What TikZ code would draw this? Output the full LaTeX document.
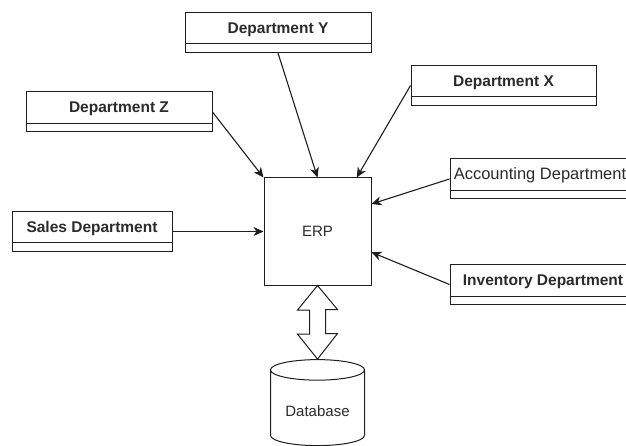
\documentclass[tikz,border=0pt]{standalone}
\usepackage{fontspec}
\setmainfont{Liberation Sans}
\usepackage{xcolor}
\usepackage{tikz}
\usetikzlibrary{arrows.meta,shapes.geometric}
\definecolor{cizgiGri}{HTML}{1E1E1E}
\definecolor{yaziGri}{HTML}{2B2B2B}

\begin{document}
\begin{tikzpicture}[x=1pt,y=-1pt,
  dept/.style={draw=cizgiGri,line width=1pt,fill=white,minimum width=#1,minimum height=40pt,
    inner sep=0pt,text height=11pt,text depth=9pt,text=yaziGri,
    font=\fontsize{15.5}{18}\selectfont\bfseries},
  link/.style={draw=cizgiGri,line width=1.1pt,-{Stealth[length=10pt,width=9pt,inset=3pt]}}]
\useasboundingbox (0,0) rectangle (626,446);
\clip (0,0) rectangle (626,446);
% merkez
\node[draw=cizgiGri,line width=1pt,minimum width=107pt,minimum height=107pt,text=yaziGri,
  font=\fontsize{15}{18}\selectfont] (erp) at (317.5,231.5) {ERP};
% departmanlar
\node[dept=186] (depY) at (278,32.5) {Department Y};
\node[dept=186] (depZ) at (119,112) {Department Z};
\node[dept=185] (depX) at (503.5,85.5) {Department X};
\node[dept=180,font=\fontsize{16.5}{20}\selectfont] (acc) at (540,179) {Accounting Department};
\node[dept=186] (inv) at (543,284.5) {Inventory Department};
\node[dept=160] (sales) at (92,231.5) {Sales Department};
\foreach \n in {depY,depZ,depX,acc,inv,sales}
  \draw[cizgiGri,line width=1pt] ([yshift=9pt]\n.south west) -- ([yshift=9pt]\n.south east);
% veritabani
\node[cylinder,shape border rotate=90,draw=cizgiGri,line width=1pt,aspect=0.32,
  minimum width=94pt,minimum height=86pt,inner sep=0pt,text=yaziGri,
  text height=20pt,text depth=3pt,yshift=-4pt,
  font=\fontsize{15}{18}\selectfont] (db) at (317.5,404) {Database};
% oklar
\draw[link] (depZ.east) -- (erp.north west);
\draw[link] (depY.south) -- (erp.north);
\draw[link] (depX.west) -- (erp.54);
\draw[link] (acc.west) -- (erp.27);
\draw[link] (inv.west) -- (erp.-21);
\draw[link] (sales.east) -- (erp.west);
\draw[cizgiGri,line width=1pt,fill=white] (erp.south) -- ++(20,24) -- ++(-12,0) -- ++(0,24)
  -- ++(12,0) -- (db.north) -- ++(-20,-25) -- ++(12,0) -- ++(0,-24) -- ++(-12,0) -- cycle;
\end{tikzpicture}
\end{document}
